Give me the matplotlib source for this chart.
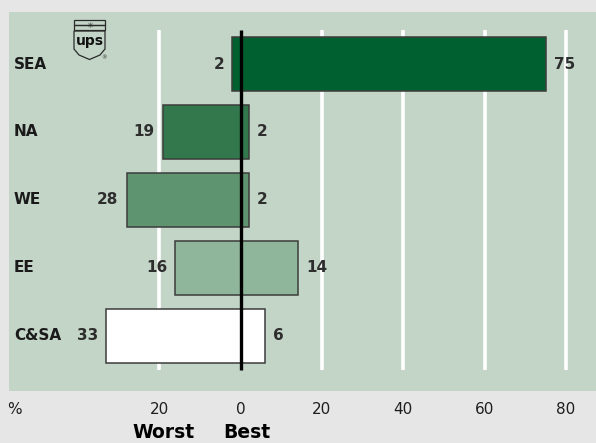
import matplotlib
matplotlib.use("Agg")
import matplotlib.pyplot as plt
from matplotlib.patches import Polygon, Rectangle
import matplotlib.transforms as mtransforms

# Regional spread: worst and best outcome (%)
regions = ["SEA", "NA", "WE", "EE", "C&SA"]
worst = [2, 19, 28, 16, 33]
best = [75, 2, 2, 14, 6]
bar_colors = ["#00602f", "#33784c", "#5f9470", "#8fb59a", "#ffffff"]

tick_values = [-20, 0, 20, 40, 60, 80]
tick_labels = ["20", "0", "20", "40", "60", "80"]

W, H = 596, 443
fig = plt.figure(figsize=(W / 100, H / 100), dpi=100, facecolor="#e6e6e6")
ax = fig.add_axes([9 / W, 52 / H, 587 / W, 379 / H], facecolor="#c3d5c7")

ax.set_xlim(-56.9, 87.35)
ax.set_ylim(4.81, -0.765)
for s in ax.spines.values():
    s.set_visible(False)
ax.set_xticks([])
ax.set_yticks([])

# white gridlines
ax.vlines([v for v in tick_values if v != 0], -0.5, 4.5, color="white", lw=2.6, zorder=1)

ypos = list(range(len(regions)))
ax.barh(ypos, [w + b for w, b in zip(worst, best)], left=[-w for w in worst],
        height=0.8, color=bar_colors, edgecolor="#3c3c3c", lw=1.1, zorder=2)

# zero line
ax.vlines(0, -0.5, 4.5, color="black", lw=2.4, zorder=3)

lab_kw = dict(fontsize=11, fontweight="bold", color="#2e2e2e", va="center")
for y, name, w, b in zip(ypos, regions, worst, best):
    ax.annotate(str(w), (-w, y), xytext=(-6, 0), textcoords="offset points",
                ha="right", **lab_kw)
    ax.annotate(str(b), (b, y), xytext=(6, 0), textcoords="offset points",
                ha="left", **lab_kw)
    ax.text(0.0085, y, name, transform=ax.get_yaxis_transform(),
            fontsize=11, fontweight="bold", color="#1a1a1a", ha="left", va="center")

# axis labels under the panel
trans = mtransforms.blended_transform_factory(ax.transData, ax.transAxes)
for v, t in zip(tick_values, tick_labels):
    ax.text(v, -0.0488, t, transform=trans, fontsize=11, color="#1e1e1e",
            ha="center", va="center", clip_on=False)
ax.text(0.0085, -0.0488, "%", transform=ax.transAxes, fontsize=11, color="#1e1e1e",
        ha="center", va="center", clip_on=False)
ax.text(-19, -0.135, "Worst", transform=trans, fontsize=13.5, fontweight="heavy",
        color="black", ha="center", va="bottom", clip_on=False)
ax.text(1.5, -0.135, "Best", transform=trans, fontsize=13.5, fontweight="heavy",
        color="black", ha="center", va="bottom", clip_on=False)

# UPS shield logo
lg = fig.add_axes([72 / W, (H - 61) / H, 36 / W, 43 / H])
lg.set_xlim(72, 108)
lg.set_ylim(61, 18)
lg.axis("off")
edge = "#2a2a2a"
lg.add_patch(Rectangle((74, 19.5), 31, 5, fill=False, ec=edge, lw=0.9))
lg.add_patch(Rectangle((74, 24.5), 31, 5, fill=False, ec=edge, lw=0.9))
lg.text(89.5, 25, "\u2733", fontsize=6, ha="center", va="center", color=edge)
lg.add_patch(Polygon([(74, 31), (105, 31), (105, 49), (100, 55), (89.5, 59.5),
                      (79, 55), (74, 49)], closed=True, fill=False, ec=edge, lw=0.9))
lg.text(89.5, 41.5, "ups", fontsize=10, fontweight="bold", ha="center", va="center",
        color="#111111", family="DejaVu Sans")
lg.text(104, 58, "\u00ae", fontsize=4, ha="center", va="center", color=edge)

fig.savefig("out.png", dpi=100, facecolor=fig.get_facecolor())
